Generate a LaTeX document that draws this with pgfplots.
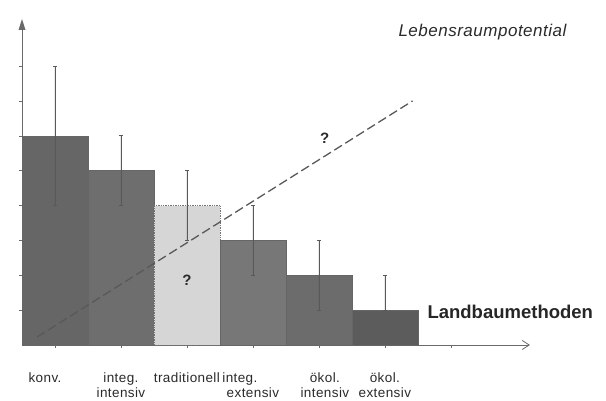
\documentclass[border=0pt]{standalone}
\usepackage{fontspec}
\setmainfont{Liberation Sans}
\usepackage{pgfplots}
\usepackage{pgfplotstable}
\pgfplotsset{compat=1.18}
\usetikzlibrary{arrows.meta}
\definecolor{cA}{HTML}{666666}
\definecolor{cB}{HTML}{6E6E6E}
\definecolor{cC}{HTML}{D6D6D6}
\definecolor{cD}{HTML}{777777}
\definecolor{cE}{HTML}{6C6C6C}
\definecolor{cF}{HTML}{5C5C5C}
\definecolor{axgray}{HTML}{6A6A6A}
\definecolor{txt}{HTML}{2A2A2A}

\pgfplotstableread{
x y ep em
0 6 2 2
}\konv
\pgfplotstableread{
x y ep em
1 5 1 1
}\intint
\pgfplotstableread{
x y ep em
2 4 1 1
}\trad
\pgfplotstableread{
x y ep em
3 3 1 1
}\intext
\pgfplotstableread{
x y ep em
4 2 1 1
}\okint
\pgfplotstableread{
x y ep em
5 1 1 0
}\okext

\pgfplotsset{
  errb/.style={
    error bars/.cd, y dir=both, y explicit,
    error bar style={solid, black!65, line width=0.7pt},
    error mark options={solid, rotate=90, mark size=2pt, black!65, line width=0.7pt},
  },
}

\begin{document}
\begin{tikzpicture}
\begin{axis}[
  scale only axis, width=508pt, height=326pt,
  xmin=-0.5, xmax=7.2, ymin=0, ymax=9.35,
  axis lines=left,
  axis line style={draw=axgray, line width=0.8pt},
  every outer x axis line/.append style={-{Straight Barb[length=7pt,width=9pt]}},
  every outer y axis line/.append style={draw=none},
  xtick={0,1,2,3,4,5,6},
  xticklabels={konv.\hspace*{20pt}, integ.\\intensiv, traditionell, integ.\hspace*{26pt}\\extensiv, \hspace*{12pt}ökol.\\\hspace*{12pt}intensiv, ökol.\\extensiv, {}},
  xticklabel style={align=center, text=txt, yshift=-21pt,
    font=\addfontfeatures{LetterSpace=3}\fontsize{13.5}{15.5}\selectfont},
  ytick={1,2,3,4,5,6,7,8}, yticklabels={},
  tick align=outside, major tick length=3pt,
  tick style={axgray, line width=0.5pt},
  clip=false,
  ybar, bar width=1, bar shift=0pt,
]
\draw[axgray, line width=0.8pt] (rel axis cs:0,0) -- (rel axis cs:0,0.97);
\fill[axgray] (rel axis cs:0,1) -- ++(-3.5pt,-11pt) -- ++(7pt,0pt) -- cycle;
\addplot[fill=cA, draw=black!60, line width=0.5pt, errb] table[x=x, y=y, y error plus=ep, y error minus=em] {\konv};
\addplot[fill=cB, draw=black!60, line width=0.5pt, errb] table[x=x, y=y, y error plus=ep, y error minus=em] {\intint};
\addplot[fill=cC, draw=black!55, densely dotted, line width=0.7pt, errb] table[x=x, y=y, y error plus=ep, y error minus=em] {\trad};
\addplot[fill=cD, draw=black!60, line width=0.5pt, errb] table[x=x, y=y, y error plus=ep, y error minus=em] {\intext};
\addplot[fill=cE, draw=black!60, line width=0.5pt, errb] table[x=x, y=y, y error plus=ep, y error minus=em] {\okint};
\addplot[fill=cF, draw=black!60, line width=0.5pt, errb] table[x=x, y=y, y error plus=ep, y error minus=em] {\okext};
\addplot[sharp plot, no marks, draw=black!65, line width=1.3pt, dash pattern=on 9pt off 4pt] coordinates {(-0.27,0.23) (5.42,7.0)};
\node[font=\bfseries\fontsize{15}{15}\selectfont, text=txt] at (axis cs:2,1.86) {?};
\node[font=\bfseries\fontsize{15}{15}\selectfont, text=txt] at (axis cs:4.09,5.94) {?};
\end{axis}
\node[anchor=east, text=txt, font=\itshape\addfontfeatures{LetterSpace=3}\fontsize{17}{17}\selectfont] at (548pt,313pt) {Lebensraumpotential};
\node[anchor=west, text=black!85, font=\bfseries\fontsize{18.5}{18.5}\selectfont] at (402pt,33pt) {Landbaumethoden};
\pgfresetboundingbox
\useasboundingbox (-22pt,-56pt) rectangle (584pt,345pt);
\end{tikzpicture}
\end{document}
